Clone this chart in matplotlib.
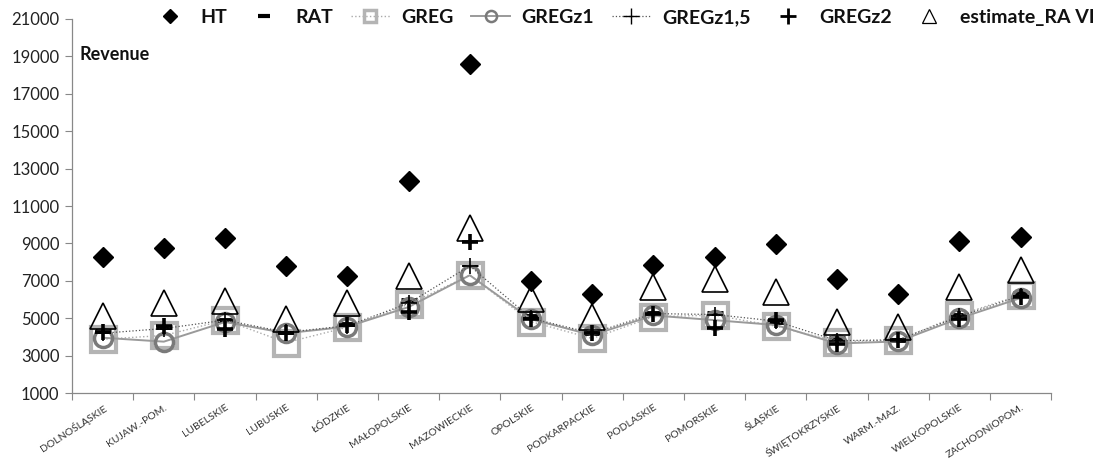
import numpy as np
import matplotlib
matplotlib.use("Agg")
import matplotlib.pyplot as plt
from matplotlib.lines import Line2D

plt.rcParams['font.family'] = ['Lato', 'DejaVu Sans']

# regions (x categories)
regions = ["DOLNOŚLĄSKIE", "KUJAW.-POM.", "LUBELSKIE", "LUBUSKIE", "ŁÓDZKIE",
           "MAŁOPOLSKIE", "MAZOWIECKIE", "OPOLSKIE", "PODKARPACKIE", "PODLASKIE",
           "POMORSKIE", "ŚLĄSKIE", "ŚWIĘTOKRZYSKIE", "WARM.-MAZ.", "WIELKOPOLSKIE",
           "ZACHODNIOPOM."]

# estimates
ht = [8300, 8750, 9300, 7800, 7250, 12350, 18600, 7000, 6300, 7850, 8300, 8950, 7100, 6300, 9130, 9360]
rat = [4330, 4550, 4920, 4250, 4700, 5950, 7920, 5100, 4220, 5260, 5300, 4800, 3940, 3850, 5200, 6350]
greg = [3880, 4080, 4900, 3700, 4520, 5750, 7300, 4820, 3920, 5080, 5170, 4580, 3750, 3830, 5170, 6250]
gregz1 = [3960, 3750, 4800, 4200, 4550, 5600, 7300, 4950, 4100, 5150, 4900, 4640, 3650, 3760, 5000, 6080]
gregz15 = [4200, 4450, 4900, 4250, 4600, 5800, 7800, 5000, 4200, 5250, 5200, 4850, 3800, 3850, 5100, 6200]
gregz2 = [4280, 4600, 4400, 4230, 4650, 5350, 9100, 4950, 4190, 5250, 4500, 4900, 3650, 3830, 4950, 6150]
est_ra6 = [5100, 5830, 5900, 4970, 5800, 7260, 9850, 6040, 5080, 6690, 7110, 6380, 4780, 4550, 6690, 7600]

x = np.arange(len(regions)) + 0.5

# series styles: (label, data, plot kwargs, legend marker size, legend edge width)
series = [
    ('HT', ht, dict(linestyle='none', marker='D', markersize=10, color='black'), 7, 1),
    ('RAT', rat, dict(linestyle='none', marker='_', markersize=11, markeredgewidth=3.5,
                      color='black'), 9, 3),
    ('GREG', greg, dict(linestyle=':', linewidth=1.0, color='#aaaaaa', marker='s', markersize=18,
                        markerfacecolor='none', markeredgecolor='#b4b4b4',
                        markeredgewidth=3), 9, 2.5),
    ('GREGz1', gregz1, dict(linestyle='-', linewidth=1.4, color='#9a9a9a', marker='o',
                            markersize=13, markerfacecolor='none', markeredgecolor='#7a7a7a',
                            markeredgewidth=2.5), 8, 1.8),
    ('GREGz1,5', gregz15, dict(linestyle=':', linewidth=0.9, color='#555555', marker='+',
                               markersize=12, markeredgewidth=1.2,
                               markeredgecolor='black'), 11, 1.0),
    ('GREGz2', gregz2, dict(linestyle='none', marker='+', markersize=12, markeredgewidth=2.6,
                            color='black'), 11, 2.0),
    ('estimate_RA VI', est_ra6, dict(linestyle='none', marker='^', markersize=19,
                                     markerfacecolor='none', markeredgecolor='black',
                                     markeredgewidth=1.2), 10, 0.9),
]

fig = plt.figure(figsize=(11.17, 4.63), dpi=100)
ax = fig.add_axes([0.0645, 0.151, 0.8765, 0.808])

handles = []
for label, vals, kw, lms, lmew in series:
    ax.plot(x, vals, label=label, **kw)
    hk = dict(kw)
    hk['markersize'] = lms
    hk['markeredgewidth'] = lmew
    handles.append(Line2D([], [], label=label, **hk))

ax.set_xlim(0, len(regions))
ax.set_ylim(1000, 21000)
ax.set_yticks(np.arange(1000, 21001, 2000))
ax.tick_params(axis='y', labelsize=12, colors='#222222', length=5, width=0.8, pad=4)
ax.tick_params(axis='y', color='#888888')

ax.set_xticks(np.arange(0, len(regions) + 1))
ax.set_xticklabels([])
ax.set_xticks(x, minor=True)
ax.set_xticklabels(regions, minor=True, rotation=33, ha='right', rotation_mode='anchor',
                   fontsize=7.5, color='#333333')
ax.tick_params(axis='x', which='major', length=5, color='#888888', width=0.8)
ax.tick_params(axis='x', which='minor', length=0, pad=7)

for s in ['top', 'right']:
    ax.spines[s].set_visible(False)
for s in ['left', 'bottom']:
    ax.spines[s].set_color('#888888')
    ax.spines[s].set_linewidth(0.9)

ax.text(0.008, 0.905, 'Revenue', transform=ax.transAxes, fontsize=13, fontweight='bold',
        color='#111111', va='center', ha='left')

leg = fig.legend(handles=handles, loc='center', bbox_to_anchor=(0.557, 0.962), ncol=7,
                 frameon=False, prop={'weight': 'bold', 'size': 14}, handlelength=2.0,
                 columnspacing=0.9, handletextpad=0.6)
for t in leg.get_texts():
    t.set_color('#111111')

plt.savefig("out.png", dpi=100)
